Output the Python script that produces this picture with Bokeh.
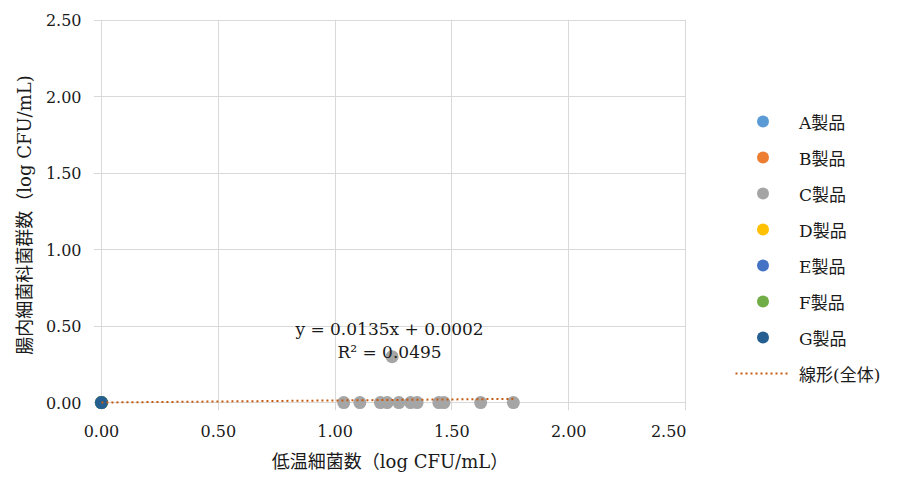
from bokeh.plotting import figure
from bokeh.layouts import row
from bokeh.models import Range1d, FixedTicker, PrintfTickFormatter, Legend, LegendItem, Label
from bokeh.embed import file_html
from bokeh.resources import INLINE

# ---- data ----
series_names = ["A製品", "B製品", "C製品", "D製品", "E製品", "F製品", "G製品"]
series_colors = ["#5B9BD5", "#ED7D31", "#A5A5A5", "#FFC000", "#4472C4", "#70AD47", "#255E91"]

a_x = [0.0]
a_y = [0.0]
b_x = [0.0]
b_y = [0.0]
c_x = [1.037, 1.106, 1.194, 1.223, 1.244, 1.273, 1.323, 1.351, 1.444, 1.466, 1.623, 1.763]
c_y = [0.0, 0.0, 0.0, 0.0, 0.30, 0.0, 0.0, 0.0, 0.0, 0.0, 0.0, 0.0]
d_x = [0.0]
d_y = [0.0]
e_x = [0.0]
e_y = [0.0]
f_x = [0.0]
f_y = [0.0]
g_x = [0.0]
g_y = [0.0]

trend_slope = 0.0135
trend_intercept = 0.0002
trend_label = "線形(全体)"
eq_text = "y = 0.0135x + 0.0002"
r2_text = "R² = 0.0495"

axis_ticks = [0.0, 0.5, 1.0, 1.5, 2.0, 2.5]
x_title = "低温細菌数（log CFU/mL）"
y_title = "腸内細菌科菌群数（log CFU/mL)"

FONT = "'DejaVu Serif', 'Noto Sans CJK JP', serif"
TXT = "#1a1a1a"
TREND_COLOR = "#C55A11"

p = figure(frame_width=593, frame_height=391, output_backend="svg", toolbar_location=None,
           x_range=Range1d(-0.034, 2.504), y_range=Range1d(-0.052, 2.504),
           min_border_left=93, min_border_right=0, min_border_top=19, min_border_bottom=58)
p.outline_line_color = None
p.background_fill_color = "white"

for g in (p.xgrid, p.ygrid):
    g.ticker = FixedTicker(ticks=axis_ticks)
    g.grid_line_color = "#D9D9D9"
    g.grid_line_width = 1

for ax in (p.xaxis, p.yaxis):
    ax.ticker = FixedTicker(ticks=axis_ticks)
    ax.formatter = PrintfTickFormatter(format="%.2f")
    ax.axis_line_color = None
    ax.major_tick_line_color = None
    ax.minor_tick_line_color = None
    ax.major_label_text_font = FONT
    ax.major_label_text_font_size = "16px"
    ax.major_label_text_color = TXT
    ax.axis_label_text_font = FONT
    ax.axis_label_text_font_size = "18px"
    ax.axis_label_text_font_style = "normal"
    ax.axis_label_text_color = TXT

p.xaxis.axis_label = x_title
p.yaxis.axis_label = y_title
p.xaxis.major_label_standoff = 8
p.yaxis.major_label_standoff = 6
p.xaxis.axis_label_standoff = 11
p.yaxis.axis_label_standoff = 8

all_x = [a_x, b_x, c_x, d_x, e_x, f_x, g_x]
all_y = [a_y, b_y, c_y, d_y, e_y, f_y, g_y]

for name, col, xs, ys in zip(series_names, series_colors, all_x, all_y):
    p.scatter(xs, ys, size=13, marker="circle", fill_color=col, line_color=None)

tx0 = 0.0
tx1 = max(c_x)
trend_xs = [tx0, tx1]
trend_ys = [trend_slope * tx0 + trend_intercept, trend_slope * tx1 + trend_intercept]
p.line(trend_xs, trend_ys, line_color=TREND_COLOR, line_width=2, line_dash="2 3")

p.add_layout(Label(x=1.233, y=0.484, text=eq_text, text_align="center", text_baseline="middle",
                   text_font=FONT, text_font_size="17px", text_color=TXT))
p.add_layout(Label(x=1.233, y=0.333, text=r2_text, text_align="center", text_baseline="middle",
                   text_font=FONT, text_font_size="17px", text_color=TXT))

# ---- legend panel (separate canvas to the right; its data lie out of its view) ----
lg = figure(frame_width=200, frame_height=391, output_backend="svg", toolbar_location=None,
            x_range=Range1d(10, 11), y_range=Range1d(10, 11),
            min_border_left=0, min_border_right=0, min_border_top=19, min_border_bottom=58)
lg.axis.visible = False
lg.grid.visible = False
lg.outline_line_color = None

items = []
for name, col, xs, ys in zip(series_names, series_colors, all_x, all_y):
    r = lg.scatter(xs, ys, size=12, marker="circle", fill_color=col, line_color=None)
    items.append(LegendItem(label=name, renderers=[r]))
rl = lg.line(trend_xs, trend_ys, line_color=TREND_COLOR, line_width=2, line_dash="2 3")
items.append(LegendItem(label=trend_label, renderers=[rl]))

legend = Legend(items=items, location=(49, 22), glyph_width=55, glyph_height=30,
                label_height=20, spacing=6, padding=0, margin=0,
                border_line_color=None, background_fill_alpha=0,
                label_text_font=FONT, label_text_font_size="17px",
                label_text_color=TXT, label_standoff=9)
lg.add_layout(legend, "center")

layout = row(p, lg)
open("out.html", "w").write(file_html(layout, INLINE))
